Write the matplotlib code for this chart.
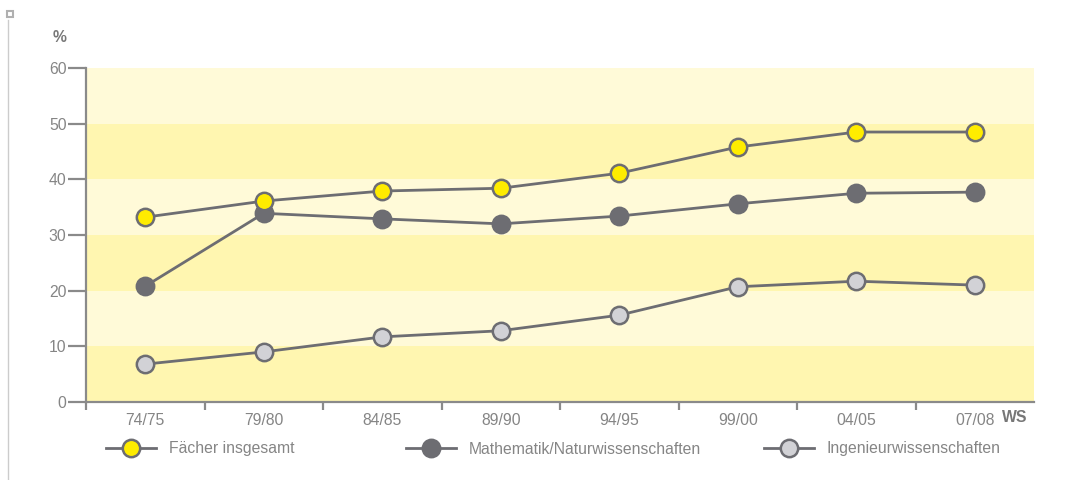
import matplotlib
matplotlib.use("Agg")
import matplotlib.pyplot as plt
from matplotlib.lines import Line2D
from matplotlib.patches import Rectangle

plt.rcParams['font.family'] = ['Liberation Sans', 'DejaVu Sans']

semesters = ["74/75", "79/80", "84/85", "89/90", "94/95", "99/00", "04/05", "07/08"]
faecher_insgesamt = [33.2, 36.1, 37.9, 38.4, 41.1, 45.8, 48.5, 48.5]
mathe_natur = [20.8, 33.9, 32.9, 32.0, 33.4, 35.6, 37.5, 37.7]
ingenieur = [6.8, 9.0, 11.7, 12.8, 15.6, 20.7, 21.7, 21.0]
series_names = ["Fächer insgesamt", "Mathematik/Naturwissenschaften", "Ingenieurwissenschaften"]
y_ticks = [0, 10, 20, 30, 40, 50, 60]

GREY = "#6d6d72"
TEXT = "#858585"
BAND_DARK = "#fff6b0"
BAND_LIGHT = "#fffad8"
fills = ["#ffec00", GREY, "#d2d2d6"]
FS = 11.3

fig = plt.figure(figsize=(10.68, 4.8), dpi=100)
ax = fig.add_axes([86 / 1068, 1 - 402 / 480, (1034 - 86) / 1068, (402 - 68) / 480])

# alternating horizontal bands
for i in range(len(y_ticks) - 1):
    ax.axhspan(y_ticks[i], y_ticks[i + 1], color=BAND_DARK if i % 2 == 0 else BAND_LIGHT,
               lw=0, zorder=0)

x = list(range(len(semesters)))
for vals, fc in zip([ingenieur, mathe_natur, faecher_insgesamt], [fills[2], fills[1], fills[0]]):
    ax.plot(x, vals, color=GREY, lw=2.0, marker="o", ms=12.5, mfc=fc, mec=GREY,
            mew=1.8, zorder=3, solid_capstyle="round")

ax.set_xlim(-0.5, len(semesters) - 0.5)
ax.set_ylim(0, 60)
ax.set_yticks(y_ticks)
ax.set_yticklabels([str(v) for v in y_ticks])
ax.set_xticks([i - 0.5 for i in range(len(semesters))])
ax.set_xticklabels([])
ax.set_xticks(x, minor=True)
ax.set_xticklabels(semesters, minor=True)

for s in ["top", "right"]:
    ax.spines[s].set_visible(False)
for s in ["left", "bottom"]:
    ax.spines[s].set_color("#8a8a8a")
    ax.spines[s].set_linewidth(1.6)

ax.tick_params(axis="y", direction="out", length=13, width=1.6, color="#8a8a8a",
               labelsize=FS, labelcolor=TEXT, pad=1)
ax.tick_params(axis="x", which="major", direction="out", length=6, width=1.6, color="#8a8a8a")
ax.tick_params(axis="x", which="minor", length=0, labelsize=FS, labelcolor=TEXT, pad=8)

fig.text(60 / 1068, 1 - 37 / 480, "%", fontsize=FS, fontweight="bold", color="#777777",
         ha="center", va="center")
fig.text(1015 / 1068, 1 - 418 / 480, "WS", fontsize=FS, fontweight="bold", color="#777777",
         ha="center", va="center")

# decorative frame mark at the left edge
fig.add_artist(Line2D([8 / 1068, 8 / 1068], [1 - 20 / 480, 0], color="#cccccc", lw=1.0))
fig.add_artist(Rectangle((7 / 1068, 1 - 17 / 480), 6 / 1068, 6 / 480, facecolor="white",
                         edgecolor="#b0b0b0", lw=1.5))

# legend entries
legend_x = [98 / 1068, 398 / 1068, 756 / 1068]
for name, fc, lx in zip(series_names, fills, legend_x):
    h = Line2D([], [], color=GREY, lw=2.0, marker="o", ms=12.5, mfc=fc, mec=GREY, mew=1.8)
    fig.legend([h], [name], loc="center left", bbox_to_anchor=(lx, 1 - 449 / 480),
               frameon=False, handlelength=3.2, handletextpad=0.8, borderpad=0,
               fontsize=FS, labelcolor=TEXT)

fig.savefig("out.png", dpi=100, facecolor="white")
